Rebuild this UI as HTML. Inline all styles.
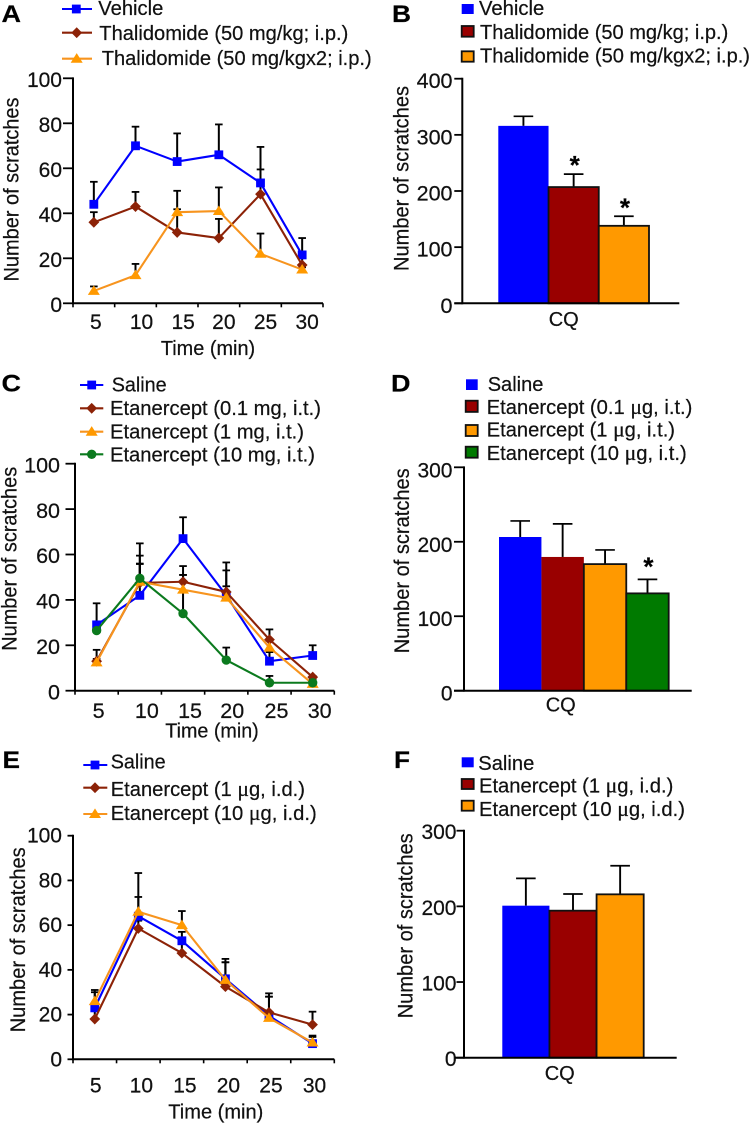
<!DOCTYPE html>
<html lang="en">
<head>
<meta charset="utf-8">
<title>Scratching behaviour panels A-F</title>
<style>
  html, body { margin: 0; padding: 0; background: #fff; }
  #figure { display: block; width: 751px; height: 1125px; filter: blur(0.35px); font-family: "Liberation Sans", Arial, sans-serif; fill: #111; }
  #figure text { stroke: #111; stroke-width: 0.22px; }
  .panel-letter { font-weight: bold; font-size: 24px; fill: #000; }
  .legend-text { font-size: 20.5px; }
  .axis-title { font-size: 21.5px; }
  .time-title { font-size: 20px; }
  .cat-label { font-size: 20px; }
  .mu { font-family: "Liberation Serif", serif; font-size: 22px; }
</style>
</head>
<body>
<svg id="figure" xmlns="http://www.w3.org/2000/svg" width="751" height="1125" viewBox="0 0 751 1125">
  <rect x="0" y="0" width="751" height="1125" fill="#fff"/>

  <!-- Panel letters -->
  <text class="panel-letter" x="1.5" y="22" textLength="19.5" lengthAdjust="spacingAndGlyphs">A</text>
  <text class="panel-letter" x="392" y="22" textLength="19" lengthAdjust="spacingAndGlyphs">B</text>
  <text class="panel-letter" x="1.5" y="391.5" textLength="19.5" lengthAdjust="spacingAndGlyphs">C</text>
  <text class="panel-letter" x="391" y="391.5" textLength="19.5" lengthAdjust="spacingAndGlyphs">D</text>
  <text class="panel-letter" x="2.5" y="768" textLength="17.5" lengthAdjust="spacingAndGlyphs">E</text>
  <text class="panel-letter" x="394" y="768" textLength="16" lengthAdjust="spacingAndGlyphs">F</text>

  <!-- Panel A legend text -->
  <g>
    <text class="legend-text" x="98.3" y="15" textLength="65" lengthAdjust="spacingAndGlyphs">Vehicle</text>
    <text class="legend-text" x="99.3" y="40" textLength="249" lengthAdjust="spacingAndGlyphs">Thalidomide (50 mg/kg; i.p.)</text>
    <text class="legend-text" x="101.7" y="65" textLength="270" lengthAdjust="spacingAndGlyphs">Thalidomide (50 mg/kgx2; i.p.)</text>
  </g>
  <!-- Panel B legend text -->
  <g>
    <text class="legend-text" x="479" y="15" textLength="65.3" lengthAdjust="spacingAndGlyphs">Vehicle</text>
    <text class="legend-text" x="480" y="39" textLength="248.3" lengthAdjust="spacingAndGlyphs">Thalidomide (50 mg/kg; i.p.)</text>
    <text class="legend-text" x="480" y="62.7" textLength="270" lengthAdjust="spacingAndGlyphs">Thalidomide (50 mg/kgx2; i.p.)</text>
  </g>
  <!-- Panel C legend text -->
  <g>
    <text class="legend-text" x="111.7" y="391.7" textLength="55" lengthAdjust="spacingAndGlyphs">Saline</text>
    <text class="legend-text" x="110" y="415" textLength="211" lengthAdjust="spacingAndGlyphs">Etanercept (0.1 mg, i.t.)</text>
    <text class="legend-text" x="110" y="438.3" textLength="194" lengthAdjust="spacingAndGlyphs">Etanercept (1 mg, i.t.)</text>
    <text class="legend-text" x="110" y="461.7" textLength="205" lengthAdjust="spacingAndGlyphs">Etanercept (10 mg, i.t.)</text>
  </g>
  <!-- Panel D legend text -->
  <g>
    <text class="legend-text" x="487.7" y="391" textLength="55.7" lengthAdjust="spacingAndGlyphs">Saline</text>
    <text class="legend-text" x="486.7" y="414" textLength="205.7" lengthAdjust="spacingAndGlyphs">Etanercept (0.1 <tspan class="mu">μ</tspan>g, i.t.)</text>
    <text class="legend-text" x="486.7" y="436.7" textLength="188.3" lengthAdjust="spacingAndGlyphs">Etanercept (1 <tspan class="mu">μ</tspan>g, i.t.)</text>
    <text class="legend-text" x="486.7" y="460" textLength="200" lengthAdjust="spacingAndGlyphs">Etanercept (10 <tspan class="mu">μ</tspan>g, i.t.)</text>
  </g>
  <!-- Panel E legend text -->
  <g>
    <text class="legend-text" x="110.7" y="768.3" textLength="55" lengthAdjust="spacingAndGlyphs">Saline</text>
    <text class="legend-text" x="110.7" y="796" textLength="194.3" lengthAdjust="spacingAndGlyphs">Etanercept (1 <tspan class="mu">μ</tspan>g, i.d.)</text>
    <text class="legend-text" x="110.7" y="820" textLength="206" lengthAdjust="spacingAndGlyphs">Etanercept (10 <tspan class="mu">μ</tspan>g, i.d.)</text>
  </g>
  <!-- Panel F legend text -->
  <g>
    <text class="legend-text" x="478.3" y="770" textLength="56" lengthAdjust="spacingAndGlyphs">Saline</text>
    <text class="legend-text" x="479" y="792.7" textLength="194.3" lengthAdjust="spacingAndGlyphs">Etanercept (1 <tspan class="mu">μ</tspan>g, i.d.)</text>
    <text class="legend-text" x="479" y="816" textLength="206" lengthAdjust="spacingAndGlyphs">Etanercept (10 <tspan class="mu">μ</tspan>g, i.d.)</text>
  </g>

  <!-- Axis titles -->
  <text class="axis-title" text-anchor="middle" transform="translate(18.3,189.5) rotate(-90)" textLength="184" lengthAdjust="spacingAndGlyphs">Number of scratches</text>
  <text class="axis-title" text-anchor="middle" transform="translate(408.3,178.5) rotate(-90)" textLength="185" lengthAdjust="spacingAndGlyphs">Number of scratches</text>
  <text class="axis-title" text-anchor="middle" transform="translate(16.7,558.8) rotate(-90)" textLength="184" lengthAdjust="spacingAndGlyphs">Number of scratches</text>
  <text class="axis-title" text-anchor="middle" transform="translate(409,560.8) rotate(-90)" textLength="185" lengthAdjust="spacingAndGlyphs">Number of scratches</text>
  <text class="axis-title" text-anchor="middle" transform="translate(25,939.8) rotate(-90)" textLength="185" lengthAdjust="spacingAndGlyphs">Number of scratches</text>
  <text class="axis-title" text-anchor="middle" transform="translate(412.7,925.8) rotate(-90)" textLength="185" lengthAdjust="spacingAndGlyphs">Number of scratches</text>

  <text class="time-title" text-anchor="middle" x="208" y="355" textLength="94.3" lengthAdjust="spacingAndGlyphs">Time (min)</text>
  <text class="time-title" text-anchor="middle" x="212" y="737.3" textLength="93.5" lengthAdjust="spacingAndGlyphs">Time (min)</text>
  <text class="time-title" text-anchor="middle" x="215.8" y="1118.3" textLength="95" lengthAdjust="spacingAndGlyphs">Time (min)</text>

  <g id="marks"></g>
</svg>

<script>
/* ---------- chart data ---------- */
const timeCategories = ['5', '10', '15', '20', '25', '30'];
const lineYTicks = [0, 20, 40, 60, 80, 100];

/* Panel A */
const aVehicleMeans = [44, 70, 63, 66, 53.5, 21.5];
const aVehicleTops = [54, 78.5, 75.5, 79.5, 69.5, 29];
const aThal50Means = [36, 43, 31.5, 29, 48.5, 17];
const aThal50Tops = [40.5, 49.5, 41.8, 37.5, 59.5, 23];
const aThal50x2Means = [5.5, 12.5, 40.5, 41, 22, 15];
const aThal50x2Tops = [7.5, 17.5, 50, 51.5, 31, 16];

/* Panel B */
const bYTicks = [0, 100, 200, 300, 400];
const bCategory = 'CQ';
const bMeans = [316, 207, 138];
const bTops = [333, 230, 155];
const bStars = ['', '*', '*'];

/* Panel C */
const cSalineMeans = [29, 42, 67, 42, 13, 15.5];
const cSalineTops = [38.5, 55.8, 76.4, 53, 17, 20];
const cEtan01Means = [13, 47.5, 48, 43.5, 22.5, 6];
const cEtan01Tops = [18, 59.5, 54.9, 56.5, 27, 6.5];
const cEtan1Means = [12.5, 48, 44.5, 41, 19, 3];
const cEtan1Tops = [14, 56, 51, 46, 22, 4];
const cEtan10Means = [26.5, 49.5, 34, 13.5, 3.5, 3.5];
const cEtan10Tops = [27, 64.9, 51, 19, 6.5, 5];

/* Panel D */
const dYTicks = [0, 100, 200, 300];
const dCategory = 'CQ';
const dMeans = [206.4, 179.6, 170, 130.7];
const dTops = [228, 224, 189, 149.5];
const dStars = ['', '', '', '*'];

/* Panel E */
const eSalineMeans = [23, 64, 53, 36, 19.5, 7];
const eSalineTops = [30, 72.6, 57, 44.9, 28, 10];
const eEtan1Means = [18, 58.5, 47.5, 32.5, 21, 15.5];
const eEtan1Tops = [22, 62, 52, 43.4, 29.5, 21.3];
const eEtan10Means = [26, 66, 60, 35.5, 18.5, 7.5];
const eEtan10Tops = [31, 83.3, 66.3, 43.4, 28, 10.6];

/* Panel F */
const fYTicks = [0, 100, 200, 300];
const fCategory = 'CQ';
const fMeans = [200.9, 194.3, 215.9];
const fTops = [237, 216.3, 253.7];
const fStars = ['', '', ''];

/* ---------- drawing helpers ---------- */
const SVG_NS = 'http://www.w3.org/2000/svg';
const layer = document.getElementById('marks');
const BLUE = '#0000ff', RUST = '#8c2207', LINE_ORANGE = '#f7941e', MARK_ORANGE = '#ff9900', GREEN = '#0b7a1e';
const BAR_RED = '#990000', BAR_ORANGE = '#ff9900', BAR_GREEN = '#007a00';

function make(tag, attrs) {
  const node = document.createElementNS(SVG_NS, tag);
  for (const key in attrs) node.setAttribute(key, attrs[key]);
  layer.appendChild(node);
  return node;
}

function label(name, node) {
  
  
  return node;
}

function linearY(p) {
  return function (v) { return p.y0 - (v / p.yMax) * (p.y0 - p.yTop); };
}

function bandX(p, count) {
  return function (i) { return p.xLeft + (i + 0.5) * (p.xRight - p.xLeft) / count; };
}

function drawMarker(shape, cx, cy, color, name) {
  let node;
  if (shape === 'square') {
    node = make('rect', { x: cx - 4.4, y: cy - 4.4, width: 8.8, height: 8.8, fill: color });
  } else if (shape === 'diamond') {
    node = make('polygon', { points: [cx, cy - 5.4, cx + 5.4, cy, cx, cy + 5.4, cx - 5.4, cy].join(','), fill: color });
  } else if (shape === 'triangle') {
    node = make('polygon', { points: [cx, cy - 5.6, cx + 6, cy + 4, cx - 6, cy + 4].join(','), fill: color });
  } else {
    node = make('circle', { cx: cx, cy: cy, r: 4.7, fill: color });
  }
  label(name, node);
}

function drawYAxis(p, ticks, id) {
  const y = linearY(p);
  const axis = make('line', { x1: p.xLeft, x2: p.xLeft, y1: p.yTop - 0.9, y2: p.y0 + 0.9, stroke: '#000', 'stroke-width': 2 });
  label('y-axis-' + id, axis);
  ticks.forEach(function (t) {
    const tick = make('line', { x1: p.xLeft - p.yTickLen, x2: p.xLeft, y1: y(t), y2: y(t), stroke: '#000', 'stroke-width': 1.8 });
    label('y-tick-' + id + '-' + t, tick);
    const txt = make('text', { x: p.yLabelRight, y: y(t) + p.yLabelDy, 'text-anchor': 'end', 'font-size': p.tickFont });
    txt.textContent = String(t);
    label('y-tick-label-' + id + '-' + t, txt);
  });
}

function drawTimeAxis(p, id) {
  const axis = make('line', { x1: p.xLeft, x2: p.xRight, y1: p.y0, y2: p.y0, stroke: '#000', 'stroke-width': 2 });
  label('x-axis-' + id, axis);
  const n = timeCategories.length;
  for (let i = 0; i <= n; i++) {
    const tx = p.xLeft + i * (p.xRight - p.xLeft) / n;
    const tick = make('line', { x1: tx, x2: tx, y1: p.y0, y2: p.y0 + 4, stroke: '#000', 'stroke-width': 1.6 });
    label('x-tick-' + id + '-' + i, tick);
  }
  const x = bandX(p, n);
  timeCategories.forEach(function (c, i) {
    const txt = make('text', { x: x(i) + p.xLabelDx[i], y: p.xLabelY, 'text-anchor': 'middle', 'font-size': p.tickFont });
    txt.textContent = c;
    label('x-tick-label-' + id + '-' + c, txt);
  });
}

function drawLineSeries(p, series, id) {
  const y = linearY(p);
  const x = bandX(p, timeCategories.length);
  series.forEach(function (s) {
    s.tops.forEach(function (top, i) {
      const stem = make('line', { x1: x(i), x2: x(i), y1: y(s.means[i]), y2: y(top), stroke: '#000', 'stroke-width': 2 });
      label('error-bar-' + id + '-' + s.key + '-' + timeCategories[i], stem);
      const cap = make('line', { x1: x(i) - 3.8, x2: x(i) + 3.8, y1: y(top), y2: y(top), stroke: '#000', 'stroke-width': 1.8 });
      label('error-cap-' + id + '-' + s.key + '-' + timeCategories[i], cap);
    });
  });
  series.forEach(function (s) {
    const pts = s.means.map(function (m, i) { return x(i) + ',' + y(m); }).join(' ');
    const line = make('polyline', { points: pts, fill: 'none', stroke: s.color, 'stroke-width': 2.1, 'stroke-linejoin': 'round' });
    label('line-' + id + '-' + s.key, line);
    s.means.forEach(function (m, i) {
      drawMarker(s.shape, x(i), y(m), s.markColor, 'point-' + id + '-' + s.key + '-' + timeCategories[i]);
    });
  });
}

function drawBars(p, means, tops, stars, fills, strokes, category, id) {
  const y = linearY(p);
  const x = bandX(p, means.length);
  const w = (p.xRight - p.xLeft) / means.length;
  means.forEach(function (m, i) {
    const stem = make('line', { x1: x(i), x2: x(i), y1: y(m), y2: y(tops[i]), stroke: '#000', 'stroke-width': 1.9 });
    label('error-bar-' + id + '-' + i, stem);
    const cap = make('line', { x1: x(i) - 9.8, x2: x(i) + 9.8, y1: y(tops[i]), y2: y(tops[i]), stroke: '#000', 'stroke-width': 1.7 });
    label('error-cap-' + id + '-' + i, cap);
    const bar = make('rect', { x: x(i) - w / 2, y: y(m), width: w, height: p.y0 - y(m), fill: fills[i], stroke: strokes[i], 'stroke-width': 1.8 });
    label('bar-' + id + '-' + i, bar);
    if (stars[i]) {
      const star = make('text', { x: x(i) + 1, y: y(tops[i]) - p.starGap + 15, 'text-anchor': 'middle', 'font-size': 26, 'font-weight': 'bold', fill: '#000' });
      star.textContent = stars[i];
      label('significance-star-' + id + '-' + i, star);
    }
  });
  const axis = make('line', { x1: p.axisLeft, x2: p.axisRight, y1: p.y0, y2: p.y0, stroke: '#000', 'stroke-width': 2 });
  label('x-axis-' + id, axis);
  const cat = make('text', { x: p.catX, y: p.catY, 'text-anchor': 'middle', 'class': 'cat-label' });
  cat.textContent = category;
  label('x-category-label-' + id, cat);
}

function drawLineLegendKey(x1, x2, y, mx, color, shape, markColor, name) {
  const line = make('line', { x1: x1, x2: x2, y1: y, y2: y, stroke: color, 'stroke-width': 2.1 });
  label(name + '-line', line);
  drawMarker(shape, mx, y, markColor, name + '-marker');
}

function drawSwatch(x, y, w, h, fill, stroke, name) {
  const sw = make('rect', { x: x, y: y, width: w, height: h, fill: fill, stroke: stroke, 'stroke-width': 1.8 });
  label(name, sw);
}

/* ---------- Panel A ---------- */
const geomA = { xLeft: 73, xRight: 323, y0: 303.3, yTop: 78.3, yMax: 100, yTickLen: 10, yLabelRight: 62, yLabelDy: 8.5, tickFont: 21, xLabelY: 329, xLabelDx: [2, 6, 6, 5, 5, 5] };
drawYAxis(geomA, lineYTicks, 'a');
drawTimeAxis(geomA, 'a');
drawLineSeries(geomA, [
  { key: 'vehicle', means: aVehicleMeans, tops: aVehicleTops, color: BLUE, markColor: BLUE, shape: 'square' },
  { key: 'thalidomide-50', means: aThal50Means, tops: aThal50Tops, color: RUST, markColor: RUST, shape: 'diamond' },
  { key: 'thalidomide-50x2', means: aThal50x2Means, tops: aThal50x2Tops, color: LINE_ORANGE, markColor: MARK_ORANGE, shape: 'triangle' }
], 'a');
drawLineLegendKey(62, 92, 9, 76.3, BLUE, 'square', BLUE, 'legend-key-a-vehicle');
drawLineLegendKey(62, 92, 32.7, 76.7, RUST, 'diamond', RUST, 'legend-key-a-thalidomide-50');
drawLineLegendKey(62, 92, 58.7, 76.7, LINE_ORANGE, 'triangle', MARK_ORANGE, 'legend-key-a-thalidomide-50x2');

/* ---------- Panel B ---------- */
const geomB = { xLeft: 498.3, xRight: 649, y0: 303.3, yTop: 78.7, yMax: 400, starGap: 15, axisLeft: 454.3, axisRight: 679.3, catX: 563.7, catY: 326 };
const axisB = { xLeft: 462.3, y0: 303.3, yTop: 78.7, yMax: 400, yTickLen: 8, yLabelRight: 452.5, yLabelDy: 9.5, tickFont: 21.5 };
drawYAxis(axisB, bYTicks, 'b');
drawBars(geomB, bMeans, bTops, bStars, [BLUE, BAR_RED, BAR_ORANGE], ['none', '#111', '#111'], bCategory, 'b');
drawSwatch(461.7, 4, 12, 10, BLUE, 'none', 'legend-swatch-b-vehicle');
drawSwatch(461.7, 26, 12, 10.7, BAR_RED, '#111', 'legend-swatch-b-thalidomide-50');
drawSwatch(461.7, 51.3, 12, 10.4, BAR_ORANGE, '#111', 'legend-swatch-b-thalidomide-50x2');

/* ---------- Panel C ---------- */
const geomC = { xLeft: 75, xRight: 334.3, y0: 690.7, yTop: 463.7, yMax: 100, yTickLen: 9.5, yLabelRight: 60, yLabelDy: 8.7, tickFont: 21.5, xLabelY: 718, xLabelDx: [2, 7, 7, 6, 7, 7] };
drawYAxis(geomC, lineYTicks, 'c');
drawTimeAxis(geomC, 'c');
drawLineSeries(geomC, [
  { key: 'saline', means: cSalineMeans, tops: cSalineTops, color: BLUE, markColor: BLUE, shape: 'square' },
  { key: 'etanercept-0-1', means: cEtan01Means, tops: cEtan01Tops, color: RUST, markColor: RUST, shape: 'diamond' },
  { key: 'etanercept-1', means: cEtan1Means, tops: cEtan1Tops, color: LINE_ORANGE, markColor: MARK_ORANGE, shape: 'triangle' },
  { key: 'etanercept-10', means: cEtan10Means, tops: cEtan10Tops, color: GREEN, markColor: GREEN, shape: 'circle' }
], 'c');
drawLineLegendKey(80, 103.3, 385, 91.7, BLUE, 'square', BLUE, 'legend-key-c-saline');
drawLineLegendKey(80, 103.3, 408.3, 91.7, RUST, 'diamond', RUST, 'legend-key-c-etanercept-0-1');
drawLineLegendKey(80, 103.3, 431.7, 91.7, LINE_ORANGE, 'triangle', MARK_ORANGE, 'legend-key-c-etanercept-1');
drawLineLegendKey(80, 103.3, 454.3, 91.7, GREEN, 'circle', GREEN, 'legend-key-c-etanercept-10');

/* ---------- Panel D ---------- */
const geomD = { xLeft: 499, xRight: 668.7, y0: 690.7, yTop: 467.3, yMax: 300, starGap: 19, axisLeft: 454, axisRight: 691.7, catX: 560.7, catY: 711.7 };
const axisD = { xLeft: 464, y0: 690.7, yTop: 467.3, yMax: 300, yTickLen: 10, yLabelRight: 452.5, yLabelDy: 10, tickFont: 21 };
drawYAxis(axisD, dYTicks, 'd');
drawBars(geomD, dMeans, dTops, dStars, [BLUE, BAR_RED, BAR_ORANGE, BAR_GREEN], ['none', 'none', '#111', '#111'], dCategory, 'd');
drawSwatch(466, 379.3, 11.7, 10.7, BLUE, 'none', 'legend-swatch-d-saline');
drawSwatch(465.7, 400.7, 12, 11.2, BAR_RED, '#111', 'legend-swatch-d-etanercept-0-1');
drawSwatch(465.7, 425, 12, 11, BAR_ORANGE, '#111', 'legend-swatch-d-etanercept-1');
drawSwatch(465.7, 446.7, 12, 11, BAR_GREEN, '#111', 'legend-swatch-d-etanercept-10');

/* ---------- Panel E ---------- */
const geomE = { xLeft: 73, xRight: 334.3, y0: 1059.3, yTop: 835.7, yMax: 100, yTickLen: 5.5, yLabelRight: 62, yLabelDy: 7, tickFont: 21, xLabelY: 1092.7, xLabelDx: [1, 3, 3, 3, 2, 2] };
drawYAxis(geomE, lineYTicks, 'e');
drawTimeAxis(geomE, 'e');
drawLineSeries(geomE, [
  { key: 'saline', means: eSalineMeans, tops: eSalineTops, color: BLUE, markColor: BLUE, shape: 'square' },
  { key: 'etanercept-1', means: eEtan1Means, tops: eEtan1Tops, color: RUST, markColor: RUST, shape: 'diamond' },
  { key: 'etanercept-10', means: eEtan10Means, tops: eEtan10Tops, color: LINE_ORANGE, markColor: MARK_ORANGE, shape: 'triangle' }
], 'e');
drawLineLegendKey(83.3, 107.3, 765, 95, BLUE, 'square', BLUE, 'legend-key-e-saline');
drawLineLegendKey(83.3, 107.3, 787.7, 95, RUST, 'diamond', RUST, 'legend-key-e-etanercept-1');
drawLineLegendKey(83.3, 107.3, 814, 95, LINE_ORANGE, 'triangle', MARK_ORANGE, 'legend-key-e-etanercept-10');

/* ---------- Panel F ---------- */
const geomF = { xLeft: 502.3, xRight: 643.7, y0: 1057.7, yTop: 830.7, yMax: 300, starGap: 15, axisLeft: 455, axisRight: 676.7, catX: 559.7, catY: 1080 };
const axisF = { xLeft: 464, y0: 1057.7, yTop: 830.7, yMax: 300, yTickLen: 7.5, yLabelRight: 456.5, yLabelDy: 8.5, tickFont: 21 };
drawYAxis(axisF, fYTicks, 'f');
drawBars(geomF, fMeans, fTops, fStars, [BLUE, BAR_RED, BAR_ORANGE], ['none', '#111', '#111'], fCategory, 'f');
drawSwatch(461.7, 757.3, 12, 10, BLUE, 'none', 'legend-swatch-f-saline');
drawSwatch(461.7, 779, 12, 10, BAR_RED, '#111', 'legend-swatch-f-etanercept-1');
drawSwatch(461.7, 800.7, 12, 10, BAR_ORANGE, '#111', 'legend-swatch-f-etanercept-10');
</script>
</body>
</html>
